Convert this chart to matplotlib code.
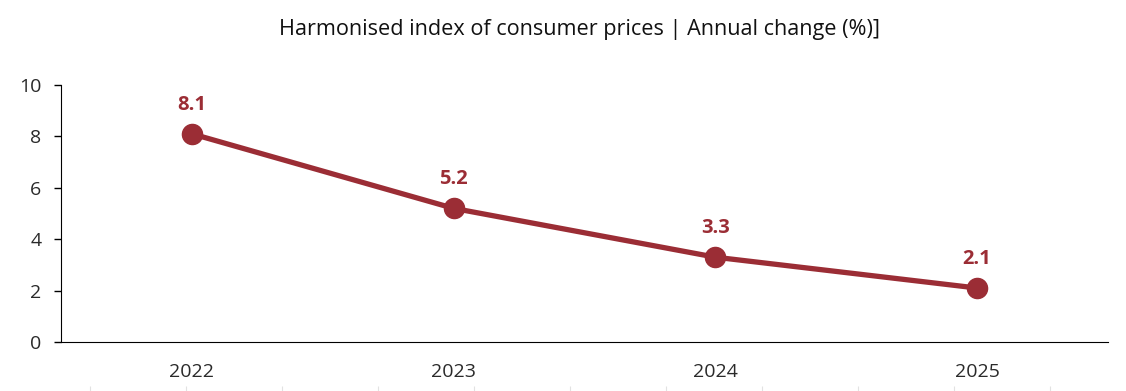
import numpy as np
import matplotlib.pyplot as plt
from matplotlib import rc

rc('font', family='Open Sans')

years = ['2022', '2023', '2024', '2025']
hicp = [8.1, 5.2, 3.3, 2.1]
red = '#9b2d35'

fig = plt.figure(figsize=(11.26, 3.91), dpi=100)
ax = fig.add_axes([0.0542, 0.1253, 0.9298, 0.6573])

x = np.arange(len(years))
ax.plot(x, hicp, color=red, lw=3.8, marker='o', ms=14.5, solid_capstyle='round')
for xi, v in zip(x, hicp):
    ax.annotate('{:.1f}'.format(v), (xi, v), xytext=(0, 21), textcoords='offset points',
                ha='center', va='center', color=red, fontsize=14.5, fontweight='bold')

ax.set_xlim(-0.5, 3.5)
ax.set_ylim(0, 10)
ax.set_yticks([0, 2, 4, 6, 8, 10])
ax.set_xticks(x)
ax.set_xticklabels(years)
ax.spines['top'].set_visible(False)
ax.spines['right'].set_visible(False)
ax.tick_params(axis='y', length=5, width=1, colors='black', labelcolor='#2a2a2a', labelsize=14, pad=9)
ax.tick_params(axis='x', length=0, labelcolor='#2a2a2a', labelsize=14, pad=15)
ax.set_title('Harmonised index of consumer prices | Annual change (%)]', fontsize=15.6,
             color='#111111', pad=36, x=0.495)

# faint ticks of the next panel peeking in at the bottom edge
bx = fig.add_axes([0, 0, 1, 0.02])
bx.set_xlim(0, 1126)
bx.set_ylim(0, 1)
bx.set_xticks(np.arange(90, 1126, 96))
bx.set_yticks([])
bx.set_xticklabels([])
for s in bx.spines.values():
    s.set_visible(False)
bx.tick_params(axis='x', direction='in', length=3.5, color='#e2e2e2', top=False, bottom=True)
bx.patch.set_alpha(0)

fig.savefig('out.png', dpi=100)
